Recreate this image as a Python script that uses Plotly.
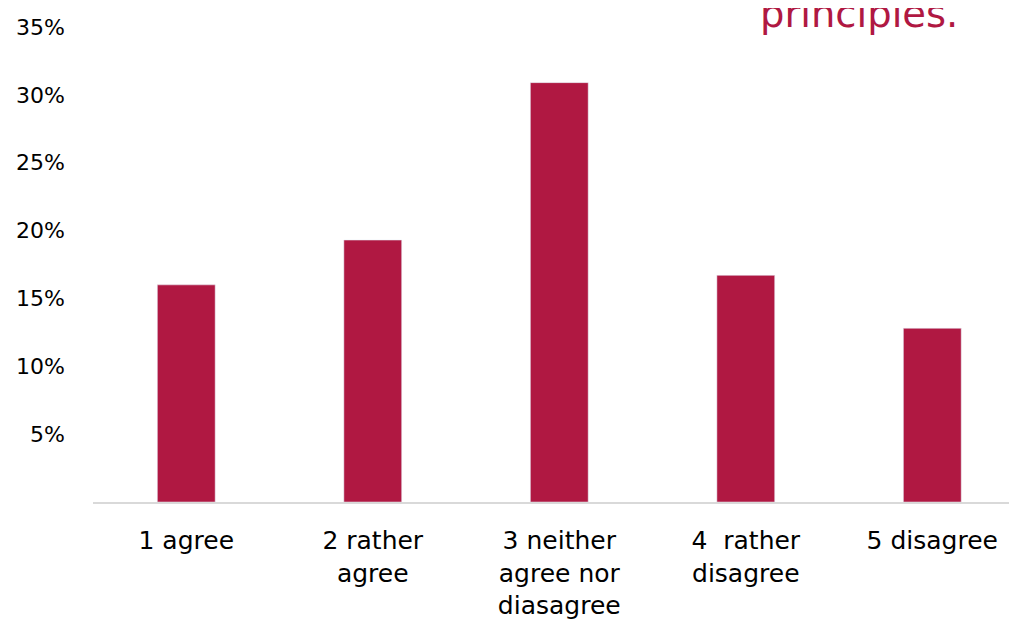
import plotly.graph_objects as go

categories = ["1 agree", "2 rather<br>agree", "3 neither<br>agree nor<br>diasagree", "4  rather<br>disagree", "5 disagree"]
values = [0.160, 0.193, 0.309, 0.167, 0.128]
tick_vals = [0.05, 0.10, 0.15, 0.20, 0.25, 0.30, 0.35]
tick_text = ["5%", "10%", "15%", "20%", "25%", "30%", "35%"]
title_text = "principles."

bar_color = "#B01842"
font_family = "DejaVu Sans, sans-serif"

fig = go.Figure(go.Bar(x=categories, y=values, marker_color=bar_color, width=0.31))

fig.update_layout(
    width=1017, height=623,
    margin=dict(l=85, r=0, t=19, b=129),
    plot_bgcolor="white", paper_bgcolor="white",
    showlegend=False,
    font=dict(family=font_family, size=25, color="#000000"),
)
fig.update_xaxes(
    range=[-0.5, 4.497], showline=True, linecolor="#D9D9D9", linewidth=2,
    ticks="", tickfont=dict(size=25), showgrid=False, ticklabelstandoff=15,
)
fig.update_yaxes(
    range=[0, 0.35], tickvals=tick_vals, ticktext=tick_text, showgrid=False,
    zeroline=False, showline=False, tickfont=dict(size=22), ticklabelstandoff=27,
)
fig.add_annotation(
    text=title_text, xref="paper", yref="paper", x=0.93, y=1.0, xanchor="right",
    yanchor="bottom", yshift=-11, showarrow=False,
    font=dict(family=font_family, size=38.5, color=bar_color),
)
fig.write_html("out.html")
